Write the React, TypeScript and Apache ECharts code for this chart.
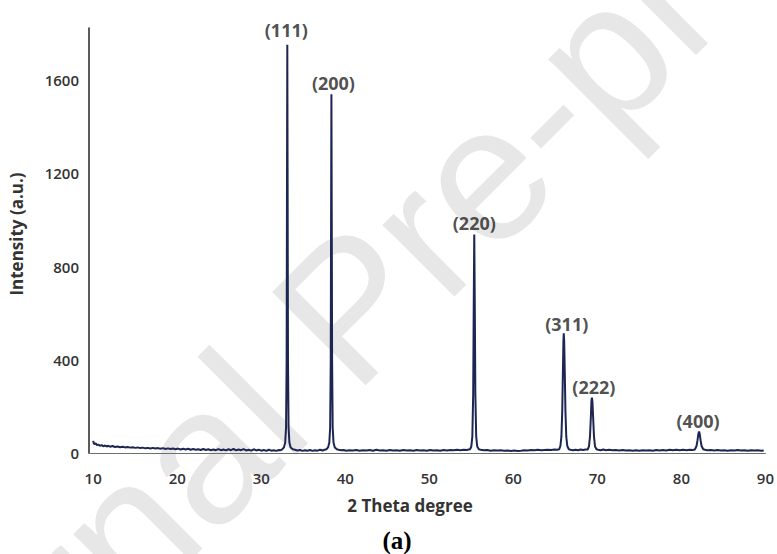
import React, { useEffect, useRef } from "react";
import * as echarts from "echarts";

// ---- data ----
const base1: [number, number][] = [
  [10.0, 52], [10.05, 44], [10.15, 38], [10.3, 41], [10.45, 34], [10.6, 36], [10.8, 31], [11.0, 34],
  [11.2, 29], [11.4, 32], [11.6, 28], [11.8, 31], [12.0, 27], [12.3, 30], [12.6, 26], [12.9, 28],
  [13.2, 25], [13.5, 27], [13.8, 24], [14.1, 26], [14.4, 23], [14.7, 25], [15.0, 22], [15.3, 24],
  [15.6, 21], [15.9, 23], [16.2, 20], [16.5, 22], [16.8, 19], [17.1, 22], [17.4, 19], [17.7, 21],
  [18.0, 18], [18.3, 21], [18.6, 17], [18.9, 20], [19.2, 17], [19.5, 19], [19.8, 16], [20.1, 19],
  [20.4, 15], [20.7, 18], [21.0, 15], [21.3, 18], [21.6, 14], [21.9, 17], [22.2, 14], [22.5, 16],
  [22.8, 13], [23.1, 17], [23.4, 13], [23.7, 16], [24.0, 12], [24.3, 15], [24.6, 12], [24.9, 17],
  [25.2, 12], [25.5, 15], [25.8, 11], [26.1, 16], [26.4, 12], [26.7, 18], [27.0, 11], [27.3, 15],
  [27.6, 12], [27.9, 17], [28.2, 11], [28.5, 14], [28.8, 10], [29.1, 16], [29.4, 11], [29.7, 14],
  [30.0, 10], [30.3, 13], [30.6, 9], [30.9, 14], [31.2, 10], [31.5, 12], [31.8, 9], [32.1, 13], [32.3, 12],
];
const peak111: [number, number][] = [
  [32.5, 16], [32.7, 24], [32.85, 45], [32.95, 110], [33.02, 400], [33.06, 1100], [33.1, 1752],
  [33.14, 1100], [33.18, 400], [33.25, 110], [33.35, 45], [33.5, 24], [33.75, 16],
];
const base2: [number, number][] = [
  [34.0, 14], [34.3, 11], [34.6, 13], [34.9, 9], [35.2, 12], [35.5, 10], [35.8, 13], [36.1, 9],
  [36.4, 12], [36.7, 10], [37.0, 14], [37.3, 11], [37.55, 14],
];
const peak200: [number, number][] = [
  [37.75, 16], [37.95, 24], [38.1, 45], [38.2, 110], [38.27, 400], [38.31, 1000], [38.35, 1540],
  [38.39, 1000], [38.43, 400], [38.5, 110], [38.6, 45], [38.75, 24], [39.0, 16],
];
const base3: [number, number][] = [
  [39.2, 14], [39.5, 12], [39.8, 13], [40.1, 10], [40.5, 12], [40.9, 11], [41.3, 13], [41.7, 10],
  [42.1, 12], [42.5, 11], [42.9, 13], [43.3, 10], [43.7, 14], [44.1, 11], [44.5, 12], [44.9, 10],
  [45.3, 13], [45.7, 11], [46.1, 12], [46.5, 10], [46.9, 13], [47.3, 11], [47.7, 12], [48.1, 10],
  [48.5, 13], [48.9, 11], [49.3, 12], [49.7, 10], [50.1, 13], [50.5, 11], [50.9, 12], [51.3, 10],
  [51.7, 13], [52.1, 11], [52.5, 13], [52.9, 12], [53.3, 14], [53.7, 12], [54.1, 14], [54.45, 13], [54.7, 15],
];
const peak220: [number, number][] = [
  [54.85, 16], [55.0, 28], [55.12, 70], [55.22, 250], [55.29, 650], [55.35, 938], [55.41, 650],
  [55.48, 250], [55.58, 70], [55.7, 28], [55.9, 16],
];
const base4: [number, number][] = [
  [56.1, 14], [56.5, 12], [56.9, 13], [57.3, 10], [57.7, 12], [58.1, 11], [58.5, 12], [58.9, 10],
  [59.3, 11], [59.7, 9], [60.1, 11], [60.5, 9], [60.9, 10], [61.3, 12], [61.7, 11], [62.1, 13],
  [62.5, 12], [62.9, 14], [63.3, 12], [63.7, 13], [64.1, 14], [64.5, 13], [64.9, 15], [65.25, 14],
];
const peak311: [number, number][] = [
  [65.45, 16], [65.6, 30], [65.72, 70], [65.82, 180], [65.9, 350], [65.96, 480], [66.0, 514],
  [66.05, 480], [66.12, 350], [66.2, 180], [66.3, 70], [66.42, 30], [66.6, 16],
];
const base5: [number, number][] = [
  [66.8, 14], [67.1, 12], [67.4, 14], [67.7, 12], [68.0, 15], [68.3, 13], [68.6, 15],
];
const peak222: [number, number][] = [
  [68.85, 15], [69.0, 28], [69.12, 70], [69.22, 150], [69.3, 225], [69.35, 238], [69.41, 222],
  [69.5, 150], [69.6, 70], [69.72, 28], [69.9, 16],
];
const base6: [number, number][] = [
  [70.1, 14], [70.4, 12], [70.7, 15], [71.0, 12], [71.4, 14], [71.8, 12], [72.2, 13], [72.6, 11],
  [73.0, 13], [73.4, 11], [73.8, 12], [74.2, 10], [74.6, 12], [75.0, 10], [75.4, 12], [75.8, 11],
  [76.2, 12], [76.6, 10], [77.0, 13], [77.4, 11], [77.8, 13], [78.2, 11], [78.6, 14], [79.0, 12],
  [79.4, 14], [79.8, 12], [80.2, 14], [80.6, 12], [81.0, 14], [81.35, 13],
];
const peak400: [number, number][] = [
  [81.6, 15], [81.8, 30], [81.92, 55], [82.02, 82], [82.1, 92], [82.18, 82], [82.28, 55],
  [82.4, 30], [82.6, 16],
];
const base7: [number, number][] = [
  [82.8, 14], [83.1, 12], [83.5, 13], [83.9, 11], [84.3, 13], [84.7, 11], [85.1, 12], [85.5, 10],
  [85.9, 12], [86.3, 11], [86.7, 13], [87.1, 11], [87.5, 12], [87.9, 10], [88.3, 12], [88.7, 11],
  [89.1, 12], [89.5, 10], [89.8, 11],
];

const peakLabels = ["(111)", "(200)", "(220)", "(311)", "(222)", "(400)"];
const peakTheta = [33.1, 38.35, 55.35, 66.0, 69.35, 82.1];
const peakIntensity = [1752, 1540, 938, 514, 238, 92];

const xTicks = [10, 20, 30, 40, 50, 60, 70, 80, 90];
const yTicks = [0, 400, 800, 1200, 1600];

const xTitle = "2 Theta degree";
const yTitle = "Intensity (a.u.)";
const panelTitle = "(a)";
const watermark = "Journal Pre-proof";

export default function App() {
  const ref = useRef<HTMLDivElement>(null);

  useEffect(() => {
    if (!ref.current) return;
    const chart = echarts.init(ref.current, undefined, { renderer: "svg" });

    const pattern = [
      ...base1, ...peak111, ...base2, ...peak200, ...base3, ...peak220, ...base4,
      ...peak311, ...base5, ...peak222, ...base6, ...peak400, ...base7,
    ];

    const labelOffsets: Record<string, [number, number]> = {
      "(111)": [-1, -4],
      "(200)": [2, 0],
      "(220)": [0, 0],
      "(311)": [3, 2],
      "(222)": [2, 0],
      "(400)": [-1, 0],
    };

    const tickFont = {
      fontFamily: "Open Sans",
      fontSize: 15,
      fontWeight: 600,
      color: "#333333",
    };

    chart.setOption({
      animation: false,
      backgroundColor: "#ffffff",
      grid: { left: 89, right: 7.5, top: 28, bottom: 101, containLabel: false },
      xAxis: {
        type: "value",
        min: 9.5,
        max: 90,
        axisLine: { show: true, lineStyle: { color: "#6f6f6f", width: 1 } },
        axisTick: { show: false },
        splitLine: { show: false },
        axisLabel: {
          ...tickFont,
          margin: 17,
          customValues: xTicks,
          formatter: (v: number) => String(v),
        },
      },
      yAxis: {
        type: "value",
        min: 0,
        max: 1824,
        axisLine: { show: true, lineStyle: { color: "#333333", width: 1.6 } },
        axisTick: { show: false },
        splitLine: { show: false },
        axisLabel: {
          ...tickFont,
          margin: 10,
          customValues: yTicks,
          formatter: (v: number) => String(v),
        },
      },
      graphic: [
        {
          type: "text",
          x: 349,
          y: 308,
          rotation: Math.PI / 4,
          z: -10,
          silent: true,
          style: {
            text: watermark,
            fontFamily: "Liberation Sans",
            fontSize: 192,
            fill: "#e7e7e7",
            textAlign: "center",
            textVerticalAlign: "middle",
          },
        },
        {
          type: "text",
          x: 410,
          y: 505,
          style: {
            text: xTitle,
            fontFamily: "Open Sans",
            fontSize: 17,
            fontWeight: "bold",
            fill: "#333333",
            textAlign: "center",
            textVerticalAlign: "middle",
          },
        },
        {
          type: "text",
          x: 16,
          y: 234,
          rotation: Math.PI / 2,
          style: {
            text: yTitle,
            fontFamily: "Open Sans",
            fontSize: 17,
            fontWeight: "bold",
            fill: "#333333",
            textAlign: "center",
            textVerticalAlign: "middle",
          },
        },
        {
          type: "text",
          x: 397,
          y: 540,
          style: {
            text: panelTitle,
            fontFamily: "Liberation Serif",
            fontSize: 25,
            fontWeight: "bold",
            fill: "#000000",
            textAlign: "center",
            textVerticalAlign: "middle",
          },
        },
      ],
      series: [
        {
          type: "line",
          data: pattern,
          showSymbol: false,
          symbol: "none",
          z: 3,
          lineStyle: { color: "#1d2653", width: 2 },
        },
        {
          type: "scatter",
          symbolSize: 0,
          z: 4,
          data: peakLabels.map((name, i) => ({
            name,
            value: [peakTheta[i], peakIntensity[i]],
            label: { offset: labelOffsets[name] },
          })),
          label: {
            show: true,
            position: "top",
            distance: 2,
            formatter: (p: any) => p.name,
            fontFamily: "Open Sans",
            fontSize: 18,
            fontWeight: "bold",
            color: "#222222",
          },
        },
      ],
    });

    return () => chart.dispose();
  }, []);

  return <div ref={ref} style={{ width: 777, height: 554, position: "absolute", left: 0, top: 0 }} />;
}
